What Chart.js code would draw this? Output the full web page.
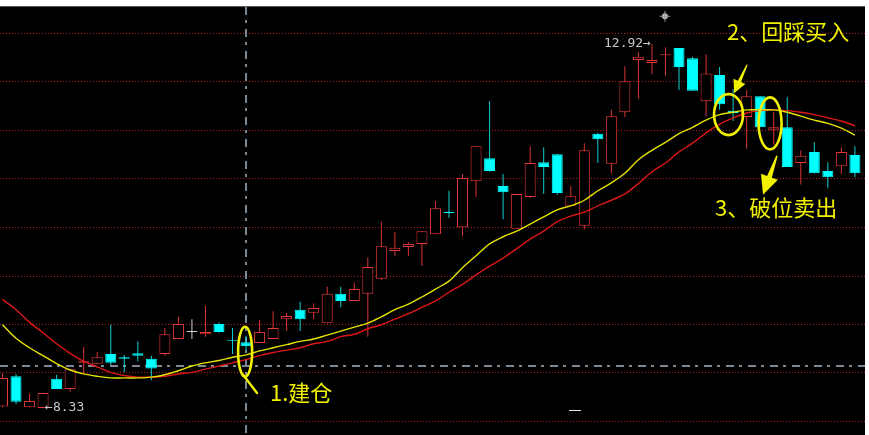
<!DOCTYPE html>
<html><head><meta charset="utf-8">
<script src="https://cdn.jsdelivr.net/npm/chart.js@4.4.1/dist/chart.umd.min.js"></script>
<style>html,body{margin:0;padding:0;background:#fff;overflow:hidden}canvas{display:block}</style>
</head><body>
<canvas id="c" width="869" height="435"></canvas>
<script>
// ---- data (prices) ----
const openP  = [8.35,8.73,8.34,8.33,8.70,8.57,8.90,8.89,9.01,8.97,9.02,8.95,9.01,9.20,9.29,9.26,9.39,9.19,9.16,9.15,9.20,9.45,9.57,9.53,9.40,9.77,9.68,9.77,9.96,10.31,10.36,10.40,10.52,10.80,10.61,11.19,11.48,11.13,10.59,10.99,11.43,11.53,10.88,10.63,11.79,11.41,12.06,12.72,12.68,12.78,12.87,12.74,12.20,12.53,12.08,12.00,12.26,11.84,11.87,11.42,11.56,11.32,11.38,11.52];
const highP  = [8.77,8.76,8.51,8.52,8.75,8.82,9.10,9.04,9.38,9.00,9.17,8.99,9.34,9.48,9.45,9.62,9.41,9.34,9.24,9.44,9.55,9.53,9.67,9.65,9.86,9.86,9.91,10.23,10.68,10.55,10.42,10.56,10.94,11.07,11.28,11.63,12.20,11.28,11.03,11.63,11.62,11.53,11.13,11.67,11.80,12.09,12.64,12.82,12.92,12.88,12.87,12.76,12.79,12.63,12.35,12.34,12.26,12.06,12.25,11.58,11.68,11.43,11.62,11.63];
const lowP   = [8.34,8.38,8.34,8.33,8.57,8.54,8.77,8.89,8.87,8.78,8.92,8.68,8.99,9.20,9.20,9.23,9.28,9.01,9.06,9.15,9.20,9.30,9.30,9.45,9.40,9.60,9.68,9.23,9.94,10.25,10.25,10.12,10.52,10.73,10.50,10.99,11.31,10.71,10.59,10.98,11.03,11.02,10.88,10.58,11.42,11.29,12.00,12.23,12.54,12.52,12.34,12.33,12.01,12.09,11.95,11.60,11.87,11.65,11.37,11.15,11.29,11.10,11.28,11.24];
const closeP = [8.71,8.41,8.42,8.52,8.57,8.82,8.92,8.97,8.90,8.95,8.99,8.83,9.26,9.39,9.29,9.29,9.29,9.18,9.11,9.29,9.34,9.49,9.45,9.59,9.77,9.68,9.83,10.11,10.37,10.35,10.40,10.56,10.85,10.79,11.23,11.63,11.32,11.05,11.03,11.42,11.37,11.04,11.00,11.58,11.72,12.01,12.45,12.76,12.72,12.79,12.63,12.33,12.55,12.16,12.05,12.26,11.87,11.87,11.37,11.51,11.29,11.24,11.56,11.29];
const maYellow = [9.38,9.21,9.09,8.99,8.89,8.81,8.76,8.73,8.71,8.71,8.71,8.72,8.75,8.80,8.86,8.90,8.93,8.97,9.00,9.05,9.09,9.13,9.17,9.20,9.25,9.30,9.35,9.40,9.48,9.57,9.64,9.73,9.83,9.93,10.10,10.25,10.40,10.49,10.56,10.65,10.74,10.83,10.88,10.95,11.07,11.17,11.29,11.46,11.58,11.68,11.79,11.87,11.96,12.03,12.06,12.09,12.09,12.09,12.06,12.01,11.96,11.92,11.86,11.77];
const maRed    = [9.70,9.57,9.41,9.28,9.14,9.02,8.92,8.85,8.78,8.74,8.72,8.72,8.73,8.76,8.78,8.82,8.86,8.90,8.94,8.99,9.03,9.06,9.09,9.14,9.17,9.23,9.26,9.33,9.38,9.45,9.52,9.60,9.68,9.79,9.89,10.01,10.12,10.22,10.34,10.46,10.56,10.68,10.75,10.80,10.88,10.95,11.03,11.16,11.31,11.42,11.56,11.67,11.80,11.91,11.99,12.05,12.08,12.09,12.08,12.06,12.03,11.99,11.95,11.89];
const categories = Array.from({length: openP.length}, (_, i) => String(i + 1));
const gridPrices = [13.06,12.45,11.84,11.23,10.61,10.00,9.39,8.78,8.17];
const cursorIndex = 18, cursorPrice = 8.86;
const highLabel = '12.92', lowLabel = '8.33';
const highIndex = 48, lowIndex = 3;

// ---- styles ----
const UP = '#e8383a', DOWN = '#00ffff', FLAT = '#d0d0d0';
const WICK_UP = '#d83434', WICK_DOWN = '#10d0d0';
const dir = openP.map((o, i) => closeP[i] > o ? 1 : (closeP[i] < o ? -1 : 0));
const bodyFill = dir.map(d => d > 0 ? '#000000' : (d < 0 ? DOWN : FLAT));
const bodyLine = dir.map(d => d > 0 ? UP : (d < 0 ? DOWN : FLAT));
const wickCol  = dir.map(d => d > 0 ? WICK_UP : (d < 0 ? WICK_DOWN : FLAT));

const YEL = '#f2f200';
const notes = {
  ellipses: [{i:17.93, v:9.04, rx:7, ry:25}, {i:53.66, v:12.03, rx:14.5, ry:20.5}, {i:56.73, v:11.92, rx:11.5, ry:26}],
  texts: [{t:'1.建仓', i:19.77, v:8.42}, {t:'2、回踩买入', i:53.55, v:12.97}, {t:'3、破位卖出', i:52.66, v:10.75}],
  arrows: [{i0:55.03, v0:12.66, i1:54.07, v1:12.30, hl:13, hw:6.5, w0:1.2, w1:3.5},
           {i0:57.24, v0:11.51, i1:56.21, v1:11.02, hl:19, hw:9, w0:1.5, w1:5}],
  tail: {i0:17.78, v0:8.75, i1:18.81, v1:8.52}
};

const bgPlugin = {
  id: 'bg',
  beforeDraw(chart) {
    const ctx = chart.ctx, ys = chart.scales.y, xs = chart.scales.x;
    ctx.save();
    ctx.fillStyle = '#ffffff'; ctx.fillRect(0, 0, chart.width, chart.height);
    ctx.fillStyle = '#000000'; ctx.fillRect(0, 7, 865, chart.height - 7);
    ctx.fillStyle = '#555555'; ctx.fillRect(0, 6, 865, 1);
    ctx.strokeStyle = '#b41e1e'; ctx.lineWidth = 1; ctx.setLineDash([1, 2]);
    gridPrices.forEach(v => {
      const y = Math.round(ys.getPixelForValue(v)) + 0.5;
      ctx.beginPath(); ctx.moveTo(0, y); ctx.lineTo(865, y); ctx.stroke();
    });
    ctx.strokeStyle = '#7a8896'; ctx.lineWidth = 2; ctx.setLineDash([8, 5, 3, 6]);
    const cy = Math.round(ys.getPixelForValue(cursorPrice));
    ctx.beginPath(); ctx.moveTo(0, cy); ctx.lineTo(865, cy); ctx.stroke();
    const cx = Math.round(xs.getPixelForValue(cursorIndex));
    ctx.beginPath(); ctx.moveTo(cx, 7); ctx.lineTo(cx, chart.height); ctx.stroke();
    ctx.restore();
  }
};

function drawArrow(ctx, x0, y0, x1, y1, hl, hw, w0, w1) {
  const dx = x1 - x0, dy = y1 - y0, L = Math.hypot(dx, dy);
  const ux = dx / L, uy = dy / L, px = -uy, py = ux;
  const bx = x1 - ux * hl, by = y1 - uy * hl;
  ctx.beginPath();
  ctx.moveTo(x0 + px * w0 / 2, y0 + py * w0 / 2);
  ctx.lineTo(bx + px * w1 / 2, by + py * w1 / 2);
  ctx.lineTo(bx + px * hw, by + py * hw);
  ctx.lineTo(x1, y1);
  ctx.lineTo(bx - px * hw, by - py * hw);
  ctx.lineTo(bx - px * w1 / 2, by - py * w1 / 2);
  ctx.lineTo(x0 - px * w0 / 2, y0 - py * w0 / 2);
  ctx.closePath();
  ctx.fill();
}

const notePlugin = {
  id: 'notes',
  afterDatasetsDraw(chart) {
    const ctx = chart.ctx, ys = chart.scales.y, xs = chart.scales.x;
    const X = i => xs.getPixelForValue(i), Y = v => ys.getPixelForValue(v);
    ctx.save();
    // high / low labels
    ctx.font = '13px "DejaVu Sans Mono", monospace';
    ctx.fillStyle = '#c8c8c8'; ctx.textBaseline = 'middle';
    ctx.textAlign = 'right';
    ctx.fillText(highLabel + '→', X(highIndex) - 1, Y(highP[highIndex]) );
    ctx.textAlign = 'left';
    ctx.fillText('←' + lowLabel, X(lowIndex) + 2, Y(lowP[lowIndex]));
    // ellipses
    ctx.strokeStyle = YEL; ctx.lineWidth = 2.6;
    notes.ellipses.forEach(e => {
      ctx.beginPath(); ctx.ellipse(X(e.i), Y(e.v), e.rx, e.ry, 0, 0, Math.PI * 2); ctx.stroke();
    });
    ctx.lineWidth = 2.4; ctx.lineCap = 'round';
    ctx.beginPath(); ctx.moveTo(X(notes.tail.i0), Y(notes.tail.v0)); ctx.lineTo(X(notes.tail.i1), Y(notes.tail.v1)); ctx.stroke();
    ctx.fillStyle = YEL;
    notes.arrows.forEach(a => drawArrow(ctx, X(a.i0), Y(a.v0), X(a.i1), Y(a.v1), a.hl, a.hw, a.w0, a.w1));
    // texts
    ctx.font = '22px "Noto Sans CJK SC", sans-serif';
    ctx.textAlign = 'left'; ctx.textBaseline = 'alphabetic';
    notes.texts.forEach(t => ctx.fillText(t.t, X(t.i), Y(t.v)));
    // small markers
    ctx.fillStyle = '#e8e8e8';
    ctx.fillRect(Math.round(X(41.87)), Math.round(Y(8.30)), 12, 1);
    const sx = X(48.96), sy = Y(13.27);
    ctx.fillStyle = '#bdbdbd';
    ctx.beginPath(); ctx.arc(sx, sy, 3, 0, Math.PI * 2); ctx.fill();
    ctx.strokeStyle = '#9a9a9a'; ctx.lineWidth = 1;
    ctx.beginPath(); ctx.moveTo(sx - 5, sy); ctx.lineTo(sx + 5, sy); ctx.moveTo(sx, sy - 5); ctx.lineTo(sx, sy + 5); ctx.stroke();
    ctx.restore();
  }
};

new Chart(document.getElementById('c'), {
  type: 'bar',
  data: {
    labels: categories,
    datasets: [
      { type: 'line', data: maYellow, borderColor: '#e4e400', borderWidth: 1.4, pointRadius: 0, tension: 0.35, order: 0, clip: false },
      { type: 'line', data: maRed, borderColor: '#dc1616', borderWidth: 1.4, pointRadius: 0, tension: 0.35, order: 0, clip: false },
      { data: openP.map((o, i) => [o, closeP[i]]), backgroundColor: bodyFill, borderColor: bodyLine, borderWidth: 1,
        borderSkipped: false, barThickness: 11, minBarLength: 1, grouped: false, order: 1, clip: false, inflateAmount: 0 },
      { data: lowP.map((l, i) => [l, highP[i]]), backgroundColor: wickCol, borderWidth: 0, barThickness: 1,
        grouped: false, order: 2, clip: false, inflateAmount: 0 }
    ]
  },
  options: {
    responsive: false, devicePixelRatio: 1, animation: false, events: [],
    layout: { padding: { left: 2.5, right: 14.1, top: 7, bottom: 0 } },
    plugins: { legend: { display: false }, tooltip: { enabled: false } },
    scales: {
      x: { display: false, offset: false, grid: { display: false, offset: false } },
      y: { display: false, min: 7.99, max: 13.387, grid: { display: false } }
    }
  },
  plugins: [bgPlugin, notePlugin]
});
</script>
</body></html>
